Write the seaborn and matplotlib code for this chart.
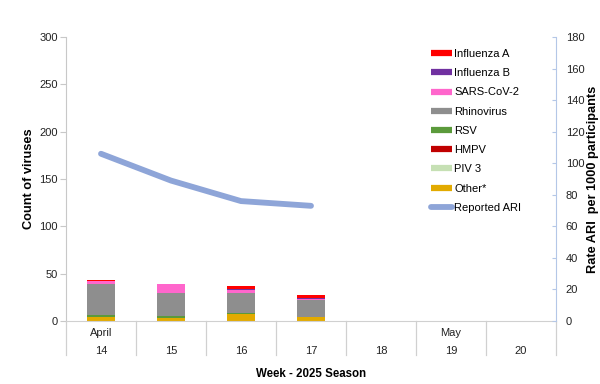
import numpy as np
import pandas as pd
import matplotlib
matplotlib.use("Agg")
import matplotlib.pyplot as plt
import matplotlib.transforms as mtransforms
from matplotlib.lines import Line2D
import seaborn as sns

# ---- data ----
weeks = ["14", "15", "16", "17", "18", "19", "20"]
months = ["April", "", "", "", "", "May", ""]
other = [4, 3, 7, 4, 0, 0, 0]
piv3 = [0, 0, 0, 0, 0, 0, 0]
hmpv = [0, 0, 0, 0, 0, 0, 0]
rsv = [2, 2, 1, 0, 0, 0, 0]
rhino = [33, 25, 22, 18, 0, 0, 0]
sars = [3, 9, 3, 1, 0, 0, 0]
flu_b = [0, 0, 1, 1, 0, 0, 0]
flu_a = [1, 0, 3, 3, 0, 0, 0]
ari_weeks = ["14", "15", "16", "17"]
ari_rate = [106, 89, 76, 73]

series = [  # bottom to top
    ("Other*", other, "#E2AA00"),
    ("PIV 3", piv3, "#C6E0B4"),
    ("HMPV", hmpv, "#C00000"),
    ("RSV", rsv, "#5B9A3B"),
    ("Rhinovirus", rhino, "#8E8E8E"),
    ("SARS-CoV-2", sars, "#FF66CC"),
    ("Influenza B", flu_b, "#7030A0"),
    ("Influenza A", flu_a, "#FF0000"),
]
ari_color = "#8EA5D8"

plt.rcParams["font.family"] = ["Liberation Sans", "DejaVu Sans"]
plt.rcParams["font.size"] = 8

fig = plt.figure(figsize=(6, 3.84), dpi=100)
ax = fig.add_axes([66 / 600, 63 / 384, 490 / 600, 284 / 384])

df = pd.DataFrame({name: vals for name, vals, _ in series})
df["week"] = weeks
cum = df[[s[0] for s in series]].cumsum(axis=1)

# draw cumulative totals from top layer down so lower layers cover upper ones
for name, vals, color in reversed(series):
    sns.barplot(x=df["week"], y=cum[name], order=weeks, color=color,
                width=0.4, saturation=1, ax=ax, linewidth=0, errorbar=None)

ax.set_xlim(-0.5, len(weeks) - 0.5)
ax.set_ylim(0, 300)
ax.set_yticks(np.arange(0, 301, 50))
ax.set_xticks([])
ax.set_xlabel("")
ax.set_ylabel("Count of viruses", fontweight="bold", fontsize=9.2, labelpad=3)
for s in ["top", "right"]:
    ax.spines[s].set_visible(False)
ax.spines["left"].set_color("#C8C8C8")
ax.spines["bottom"].set_color("#D0D0D0")
ax.tick_params(axis="y", direction="out", length=4, color="#C8C8C8",
               labelcolor="#222222", pad=2)

# category table below axis
trans = mtransforms.blended_transform_factory(ax.transData, ax.transAxes)
for i in range(len(weeks) + 1):
    ax.plot([i - 0.5, i - 0.5], [0, -0.12], transform=trans, color="#D0D0D0",
            lw=0.9, clip_on=False)
for i, (m, w) in enumerate(zip(months, weeks)):
    ax.text(i, -0.043, m, transform=trans, ha="center", va="center",
            color="#222222")
    ax.text(i, -0.106, w, transform=trans, ha="center", va="center",
            color="#222222")
ax.text(0.5, -0.186, "Week - 2025 Season", transform=ax.transAxes, ha="center",
        va="center", fontweight="bold", fontsize=8.3)

# secondary axis
ax2 = ax.twinx()
x_pos = np.array([weeks.index(w) for w in ari_weeks])
sns.lineplot(x=x_pos, y=ari_rate, ax=ax2, color=ari_color, lw=4.2,
             solid_capstyle="round", legend=False)
ax2.set_ylim(0, 180)
ax2.set_yticks(np.arange(0, 181, 20))
ax2.set_xlim(-0.5, len(weeks) - 0.5)
ax2.set_ylabel("Rate ARI  per 1000 participants", fontweight="bold",
               fontsize=9.2, labelpad=2)
for s in ["top", "left", "bottom"]:
    ax2.spines[s].set_visible(False)
ax2.spines["right"].set_color("#B4C7E7")
ax2.tick_params(axis="y", direction="in", length=3, color="#B4C7E7",
                labelcolor="#222222", pad=7)

# legend
handles = [Line2D([0], [0], color=c, lw=4.5, solid_capstyle="butt")
           for _, _, c in reversed(series)]
labels = [n for n, _, _ in reversed(series)]
handles.append(Line2D([0], [0], color=ari_color, lw=4.2, solid_capstyle="round"))
labels.append("Reported ARI")
fig.legend(handles, labels, loc="upper left",
           bbox_to_anchor=(431 / 600, 1 - 49 / 384), frameon=False,
           handlelength=1.9, handletextpad=0.2, labelspacing=0.83,
           borderpad=0, borderaxespad=0, fontsize=8)

fig.savefig("out.png", dpi=100)
